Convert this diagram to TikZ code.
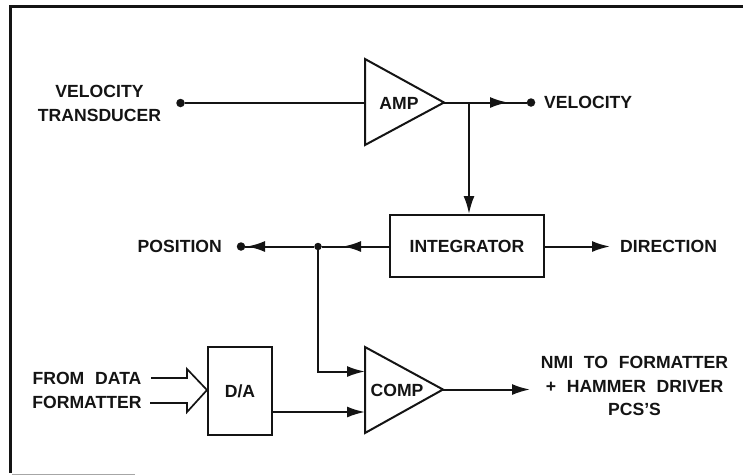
\documentclass[tikz,border=0pt]{standalone}
\usepackage{fontspec}
\setmainfont[WordSpace=2.2]{Liberation Sans}
\usetikzlibrary{arrows.meta}
\tikzset{
  line/.style={line width=2pt,black!92,line join=miter},
  arr/.style={line,-{Latex[length=18pt,width=11pt]}},
  blockbox/.style={draw,line width=2pt,black!92,inner sep=0pt,anchor=north west},
  lab/.style={inner sep=0pt,font=\fontsize{17.6pt}{23.6pt}\selectfont\bfseries,align=center,text=black!92},
  dotn/.style={circle,fill=black!92,inner sep=0pt,minimum size=8.5pt}
}
\begin{document}
\begin{tikzpicture}[x=1pt,y=-1pt]
\useasboundingbox (0,0) rectangle (743,475);
% frame
\coordinate (fa) at (743,6.5);
\coordinate (fb) at (10.5,6.5);
\coordinate (fc) at (10.5,473);
\coordinate (fd) at (135,474);
\coordinate (fe) at (12,474);
\draw[line,line width=2.4pt] (fa) -- (fb) -- (fc);
\draw[black!35,line width=1pt] (fe) -- (fd);
% triangles
\coordinate (ampT) at (365,59);
\coordinate (ampB) at (365,145);
\coordinate (ampO) at (444,102.5);
\coordinate (ampI) at (365,103);
\draw[line] (ampT) -- (ampO) -- (ampB) -- cycle;
\node[lab] (amp) at (399,103) {AMP};
\coordinate (cmpT) at (365,347);
\coordinate (cmpB) at (365,433);
\coordinate (cmpO) at (443,389.5);
\coordinate (cmpA) at (365,371.5);
\coordinate (cmpC) at (365,412);
\draw[line] (cmpT) -- (cmpO) -- (cmpB) -- cycle;
\node[lab] (comp) at (397,390) {COMP};
% boxes
\node[blockbox,minimum width=154pt,minimum height=62pt] (int) at (389,214) {};
\node[lab] (intl) at (int.center) {INTEGRATOR};
\node[blockbox,minimum width=64pt,minimum height=88pt] (da) at (207,346) {};
\node[lab] (dal) at (da.center) {D/A};
% dots and junctions
\node[dotn] (vtd) at (180.5,103) {};
\node[dotn] (vod) at (531,102.5) {};
\node[dotn] (pod) at (241,246.5) {};
\node[dotn,minimum size=7.5pt] (pj) at (318,246.5) {};
\coordinate (vj) at (469,102.5);
\coordinate (vt) at (508,102.5);
\coordinate (pt1) at (343,246.5);
\coordinate (pt2) at (247,246.5);
\coordinate (dir) at (610,246.5);
\coordinate (pc) at (318,371.5);
\coordinate (nmi) at (530,389.5);
\coordinate (intT) at (469,214);
\coordinate (intL) at (389,246.5);
\coordinate (intR) at (543,246.5);
\coordinate (daR) at (271,412);
% labels
\node[lab] (l1) at (99.5,103.5) {VELOCITY\\TRANSDUCER};
\node[lab,anchor=west] (l2) at (544,102.5) {VELOCITY};
\node[lab,anchor=east] (l3) at (222,246.5) {POSITION};
\node[lab,anchor=west] (l4) at (620,246.5) {DIRECTION};
\node[lab] (l5) at (87,390.5) {FROM DATA\\FORMATTER};
\node[lab] (l6) at (634.5,386) {NMI TO FORMATTER\\+ HAMMER DRIVER\\PCS'S};
% connectors
\draw[line] (vtd) -- (ampI);
\draw[line] (ampO) -- (vod);
\draw[arr] (ampO) -- (vt);
\draw[arr] (vj) -- (intT);
\draw[arr] (intR) -- (dir);
\draw[line] (intL) -- (pj);
\draw[arr] (intL) -- (pt1);
\draw[line] (pj) -- (pod);
\draw[arr] (pj) -- (pt2);
\draw[arr] (pj) -- (pc) -- (cmpA);
\draw[arr] (daR) -- (cmpC);
\draw[arr] (cmpO) -- (nmi);
% bus arrow
\coordinate (b1) at (151,378);
\coordinate (b2) at (187,378);
\coordinate (b3) at (187,369);
\coordinate (b4) at (207,390);
\coordinate (b5) at (187,412);
\coordinate (b6) at (187,403);
\coordinate (b7) at (150,403);
\draw[line,line width=1.7pt] (b1) -- (b2) -- (b3) -- (b4) -- (b5) -- (b6) -- (b7);
\end{tikzpicture}
\end{document}
